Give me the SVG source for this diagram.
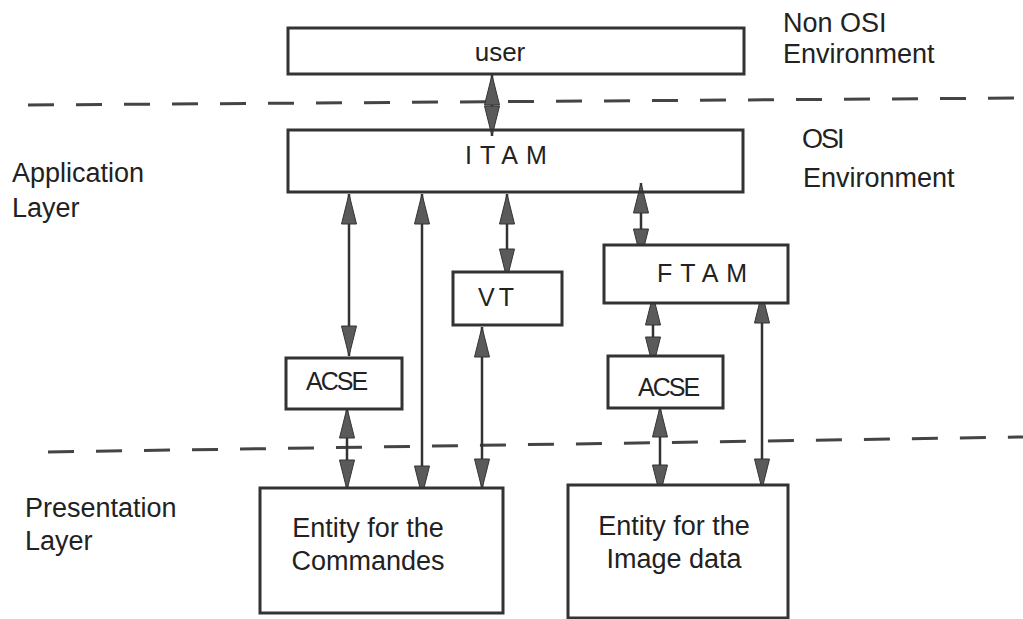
<svg xmlns="http://www.w3.org/2000/svg" width="1023" height="619" viewBox="0 0 1023 619">
<style>
.box{fill:#fff;stroke:#333;stroke-width:3}
.t{font-family:"Liberation Sans",Arial,Helvetica,sans-serif;fill:#222}
.lbl{font-size:27px}
.sp{font-size:25px;letter-spacing:8px}
.dash{fill:none;stroke:#444;stroke-width:3;stroke-dasharray:26 22}
.con{fill:none;stroke:#333;stroke-width:2.5;marker-start:url(#ah);marker-end:url(#ah)}
</style>
<defs>
<marker id="ah" viewBox="0 0 30 16" markerUnits="userSpaceOnUse" markerWidth="30" markerHeight="16" refX="30" refY="8" orient="auto-start-reverse" overflow="visible">
<path d="M0,0.5 L30,8 L0,15.5 z" fill="#5a5a5a" stroke="#333" stroke-width="1"/>
</marker>
</defs>
<rect width="1023" height="619" fill="#fff"/>

<g id="layers">
<line class="dash" x1="28" y1="105" x2="1023" y2="98"/>
<line class="dash" x1="48" y1="452" x2="1023" y2="437"/>
</g>

<g id="labels" class="t lbl">
<text x="783" y="32">Non OSI</text>
<text x="783" y="63">Environment</text>
<text x="802" y="148" letter-spacing="-2">OSI</text>
<text x="803" y="187">Environment</text>
<text x="12" y="182">Application</text>
<text x="12" y="217">Layer</text>
<text x="25" y="517">Presentation</text>
<text x="25" y="550">Layer</text>
</g>

<g id="connectors">
<line class="con" x1="492" y1="75" x2="492" y2="136"/>
<line class="con" x1="349" y1="194" x2="349" y2="356"/>
<line class="con" x1="422" y1="194" x2="422" y2="496"/>
<line class="con" x1="507" y1="194" x2="507" y2="279"/>
<line class="con" x1="482" y1="327" x2="482" y2="489"/>
<line class="con" x1="347" y1="408" x2="347" y2="490"/>
<line class="con" x1="641" y1="183" x2="641" y2="259"/>
<line class="con" x1="653" y1="295" x2="653" y2="367"/>
<line class="con" x1="762" y1="293" x2="762" y2="489"/>
<line class="con" x1="660" y1="407" x2="660" y2="495"/>
</g>

<g id="user">
<rect class="box" x="288" y="28" width="456" height="46"/>
<text class="t" x="500" y="61" font-size="26" text-anchor="middle">user</text>
</g>
<g id="itam">
<rect class="box" x="288" y="130" width="455" height="62" fill-opacity="0"/>
<text class="t sp" x="465" y="164">ITAM</text>
</g>
<g id="vt">
<rect class="box" x="453" y="272" width="109" height="53"/>
<text class="t" x="478" y="306" font-size="25" letter-spacing="4">VT</text>
</g>
<g id="ftam">
<rect class="box" x="604" y="245" width="184" height="58"/>
<text class="t sp" x="657" y="282">FTAM</text>
</g>
<g id="acse-left">
<rect class="box" x="286" y="358" width="116" height="51"/>
<text class="t" x="306" y="390" font-size="25" letter-spacing="-2">ACSE</text>
</g>
<g id="acse-right">
<rect class="box" x="608" y="356" width="115" height="52"/>
<text class="t" x="638" y="396" font-size="25" letter-spacing="-2">ACSE</text>
</g>
<g id="entity-commandes">
<rect class="box" x="260" y="488" width="243" height="125"/>
<text class="t lbl" x="368" y="537" text-anchor="middle">Entity for the</text>
<text class="t lbl" x="368" y="570" text-anchor="middle">Commandes</text>
</g>
<g id="entity-image">
<rect class="box" x="568" y="485" width="220" height="133"/>
<text class="t lbl" x="674" y="535" text-anchor="middle">Entity for the</text>
<text class="t lbl" x="674" y="568" text-anchor="middle">Image data</text>
</g>
</svg>
